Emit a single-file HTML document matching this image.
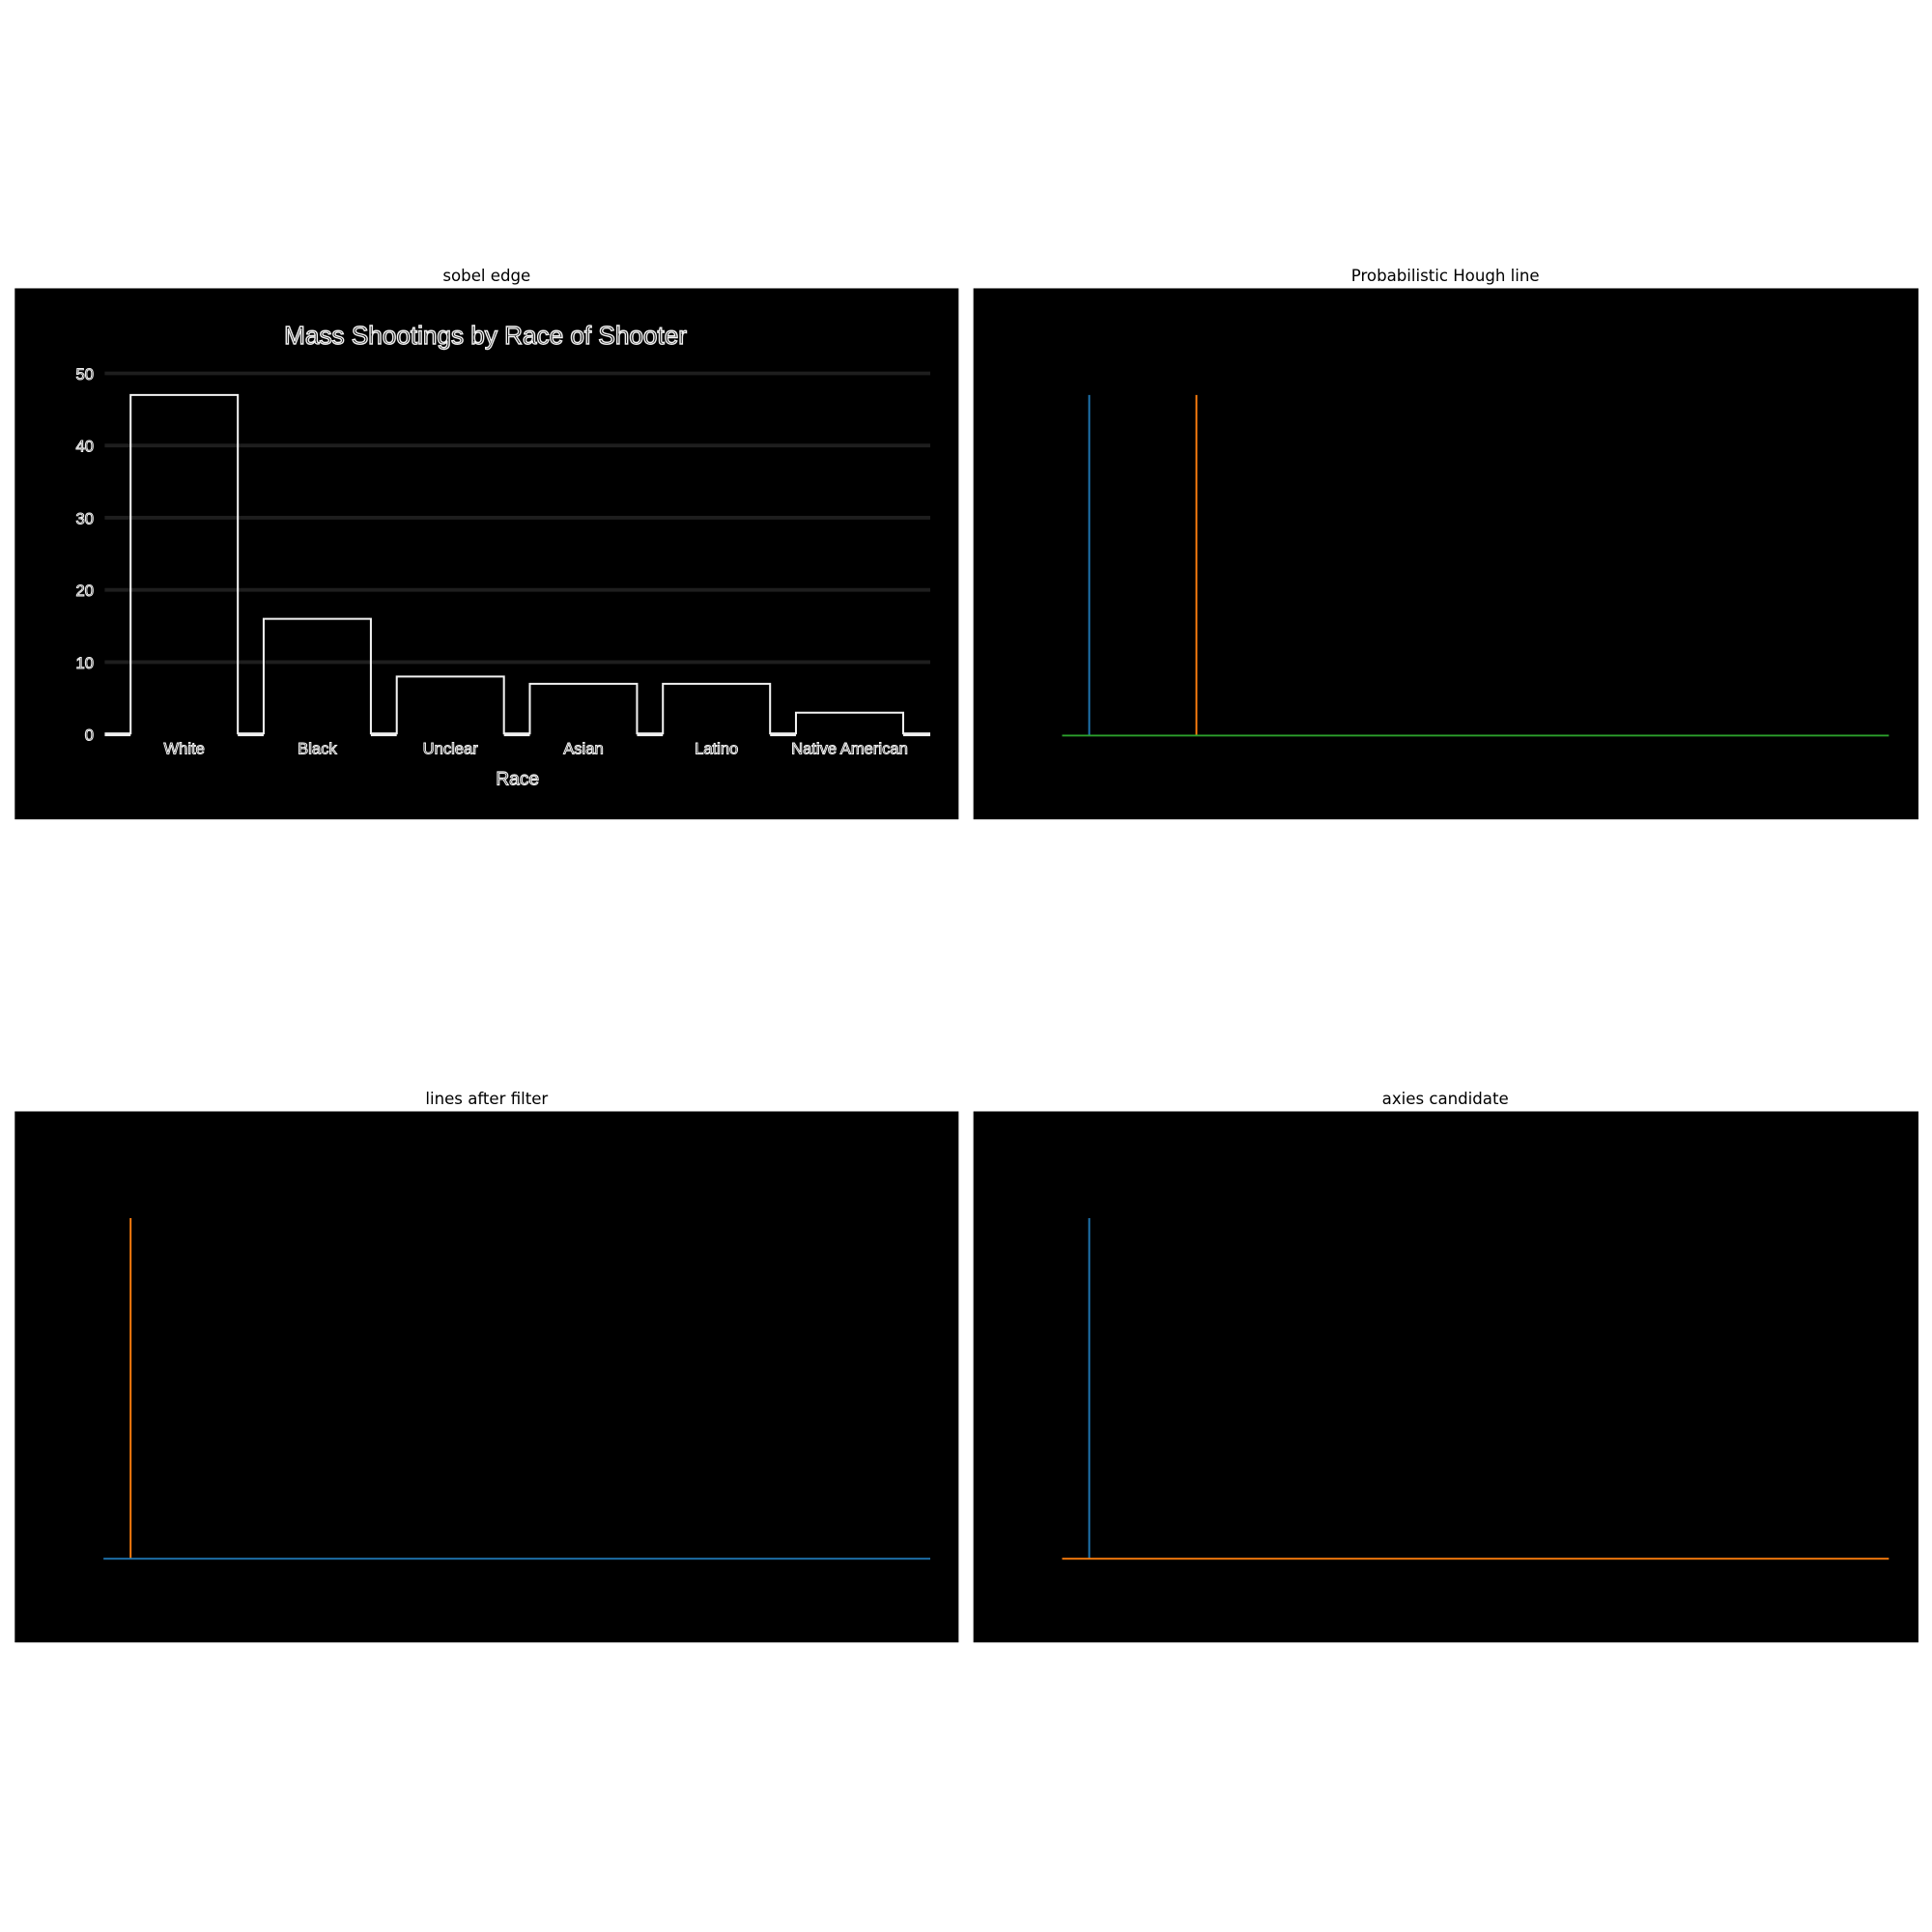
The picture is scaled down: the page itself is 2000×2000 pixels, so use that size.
<!DOCTYPE html>
<html><head><meta charset="utf-8">
<style>
html,body{margin:0;padding:0;background:#fff;}
svg{display:block;}
</style></head>
<body>
<svg id="fig" width="2000" height="2000" viewBox="0 0 1568 1568" xmlns="http://www.w3.org/2000/svg">
  <rect x="0" y="0" width="1568" height="1568" fill="#fff"/>
  <text x="395" y="228" font-family="DejaVu Sans, sans-serif" font-size="13" text-anchor="middle" fill="#000">sobel edge</text>
  <text x="1173" y="228" font-family="DejaVu Sans, sans-serif" font-size="13" text-anchor="middle" fill="#000">Probabilistic Hough line</text>
  <text x="395" y="896" font-family="DejaVu Sans, sans-serif" font-size="13" text-anchor="middle" fill="#000">lines after filter</text>
  <text x="1173" y="896" font-family="DejaVu Sans, sans-serif" font-size="13" text-anchor="middle" fill="#000">axies candidate</text>
  <rect x="12" y="234" width="766" height="431" fill="#000"/>
  <rect x="790" y="234" width="767" height="431" fill="#000"/>
  <rect x="12" y="902" width="766" height="431" fill="#000"/>
  <rect x="790" y="902" width="767" height="431" fill="#000"/>
  <g id="sobel"></g>
  <g id="lines"></g>
</svg>
<script>
const categories = ["White","Black","Unclear","Asian","Latino","Native American"];
const values = [47, 16, 8, 7, 7, 3];
const yTicks = [0, 10, 20, 30, 40, 50];
const tickLabels = ["0","10","20","30","40","50"];

const houghVertical = [{cat:0, side:"left", color:"#1f77b4"}, {cat:0, side:"right", color:"#ff7f0e"}];
const houghHorizontal = [{value:0, color:"#2ca02c"}];
const filterVertical = [{cat:0, side:"left", color:"#ff7f0e"}];
const filterHorizontal = [{value:0, color:"#1f77b4"}];
const axesVertical = [{cat:0, side:"left", color:"#1f77b4"}];
const axesHorizontal = [{value:0, color:"#ff7f0e"}];

const NS = "http://www.w3.org/2000/svg";
const plotLeft = 85, plotRight = 755, y0 = 596, y50 = 303;
const bandStart = 95.5, band = 108, barW = 87;
function yScale(v){ return y0 - (v/50)*(y0 - y50); }
function xCenter(i){ return bandStart + band*i + band/2; }
function mk(tag, attrs, parent){ const e=document.createElementNS(NS,tag); for(const k in attrs) e.setAttribute(k, attrs[k]); parent.appendChild(e); return e; }

const g = document.getElementById("sobel");
const outline = {fill:"#000", stroke:"#f0f0f0", "stroke-width":"1.1", "font-family":"Liberation Sans, Arial, sans-serif"};
let t = mk("text", Object.assign({x:394, y:279, "font-size":"20.5", "text-anchor":"middle"}, outline), g);
t.textContent = "Mass Shootings by Race of Shooter";



yTicks.forEach((v,i)=>{
  if (v !== 0) {
    const l = mk("line", {x1:plotLeft, x2:plotRight, y1:yScale(v), y2:yScale(v), stroke:"#1e1e1e", "stroke-width":"3"}, g);
    
    
  }
  const tx = mk("text", Object.assign({x:76, y:yScale(v)+5, "font-size":"13", "text-anchor":"end"}, outline, {"stroke-width":"0.8"}), g);
  tx.textContent = tickLabels[i];
  
  
});

let prev = plotLeft;
categories.forEach((c,i)=>{
  const xl = xCenter(i) - barW/2;
  const seg = mk("line", {x1:prev, x2:xl, y1:y0, y2:y0, stroke:"#f2f2f2", "stroke-width":"3"}, g);
  
  
  prev = xl + barW;
});
const segEnd = mk("line", {x1:prev, x2:plotRight, y1:y0, y2:y0, stroke:"#f2f2f2", "stroke-width":"3"}, g);



categories.forEach((c,i)=>{
  const xl = xCenter(i) - barW/2;
  const p = mk("path", {d:`M${xl},${y0} L${xl},${yScale(values[i])} L${xl+barW},${yScale(values[i])} L${xl+barW},${y0}`, fill:"none", stroke:"#f2f2f2", "stroke-width":"1.6"}, g);
  
  
  const lab = mk("text", Object.assign({x:xCenter(i), y:612, "font-size":"13", "text-anchor":"middle"}, outline, {"stroke-width":"0.8"}), g);
  lab.textContent = c;
  
  
});
t = mk("text", Object.assign({x:420, y:637, "font-size":"15", "text-anchor":"middle"}, outline, {"stroke-width":"0.9"}), g);
t.textContent = "Race";



const L = document.getElementById("lines");
function drawPanel(dx, dy, lineLeft, verts, hors, name){
  verts.forEach(v=>{
    const x = dx + xCenter(v.cat) + (v.side==="left" ? -barW/2 : barW/2);
    const l = mk("line", {x1:x, x2:x, y1:dy+yScale(values[v.cat]), y2:dy+y0+1, stroke:v.color, "stroke-width":"1.5"}, L);
    
    
  });
  hors.forEach(h=>{
    const l = mk("line", {x1:dx+lineLeft, x2:dx+plotRight, y1:dy+yScale(h.value)+1, y2:dy+yScale(h.value)+1, stroke:h.color, "stroke-width":"1.5"}, L);
    
    
  });
}
drawPanel(778, 0, 84, houghVertical, houghHorizontal, "hough");
drawPanel(0, 668, 84, filterVertical, filterHorizontal, "filter");
drawPanel(778, 668, 84, axesVertical, axesHorizontal, "axes");
</script>
</body></html>
